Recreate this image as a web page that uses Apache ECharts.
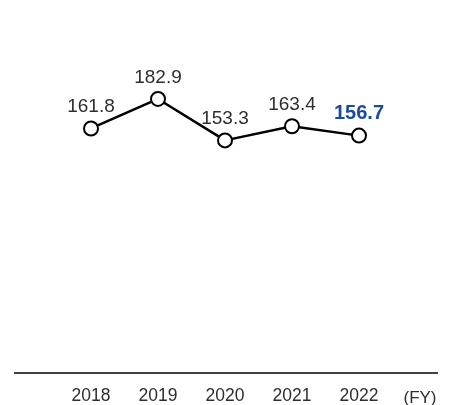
<!DOCTYPE html>
<html>
<head>
<meta charset="utf-8">
<script src="https://cdn.jsdelivr.net/npm/echarts@6/dist/echarts.min.js"></script>
<style>
html,body{margin:0;padding:0;background:#fff;}
#chart{width:449px;height:405px;}
</style>
</head>
<body>
<div id="chart"></div>
<script>
var years = ['2018', '2019', '2020', '2021', '2022'];
var values = [161.8, 182.9, 153.3, 163.4, 156.7];
var unitLabel = '(FY)';
var highlightIndex = 4;

var FONT = '"Liberation Sans Narrow", "Arial Narrow", "Liberation Sans", sans-serif';
var chart = echarts.init(document.getElementById('chart'));

var seriesData = values.map(function (v, i) {
  if (i === highlightIndex) {
    return { value: v, label: { color: '#1b4a9b', fontWeight: 'bold', fontSize: 20 } };
  }
  return v;
});

chart.setOption({
  animation: false,
  backgroundColor: '#ffffff',
  grid: { left: 57.5, right: 56.5, top: 75, bottom: 32 },
  xAxis: {
    type: 'category',
    data: years,
    boundaryGap: true,
    axisLine: { show: false },
    axisTick: { show: false },
    axisLabel: { color: '#2e2e2e', fontSize: 17.5, fontFamily: FONT, margin: 18 }
  },
  yAxis: {
    type: 'value',
    min: -10,
    max: 200,
    show: false,
    splitLine: { show: false }
  },
  series: [{
    type: 'line',
    data: seriesData,
    symbol: 'circle',
    symbolSize: 14,
    lineStyle: { color: '#000000', width: 2.5 },
    itemStyle: { color: '#ffffff', borderColor: '#000000', borderWidth: 2 },
    label: {
      show: true,
      position: 'top',
      distance: 4,
      color: '#2e2e2e',
      fontSize: 19,
      fontFamily: FONT
    }
  }],
  graphic: [
    {
      type: 'line',
      shape: { x1: 14, y1: 373, x2: 438, y2: 373 },
      style: { stroke: '#000000', lineWidth: 1.5 }
    },
    {
      type: 'text',
      x: 420,
      y: 398,
      style: {
        text: unitLabel,
        fill: '#2e2e2e',
        font: '17px ' + FONT,
        textAlign: 'center',
        textVerticalAlign: 'middle'
      }
    }
  ]
});
</script>
</body>
</html>
